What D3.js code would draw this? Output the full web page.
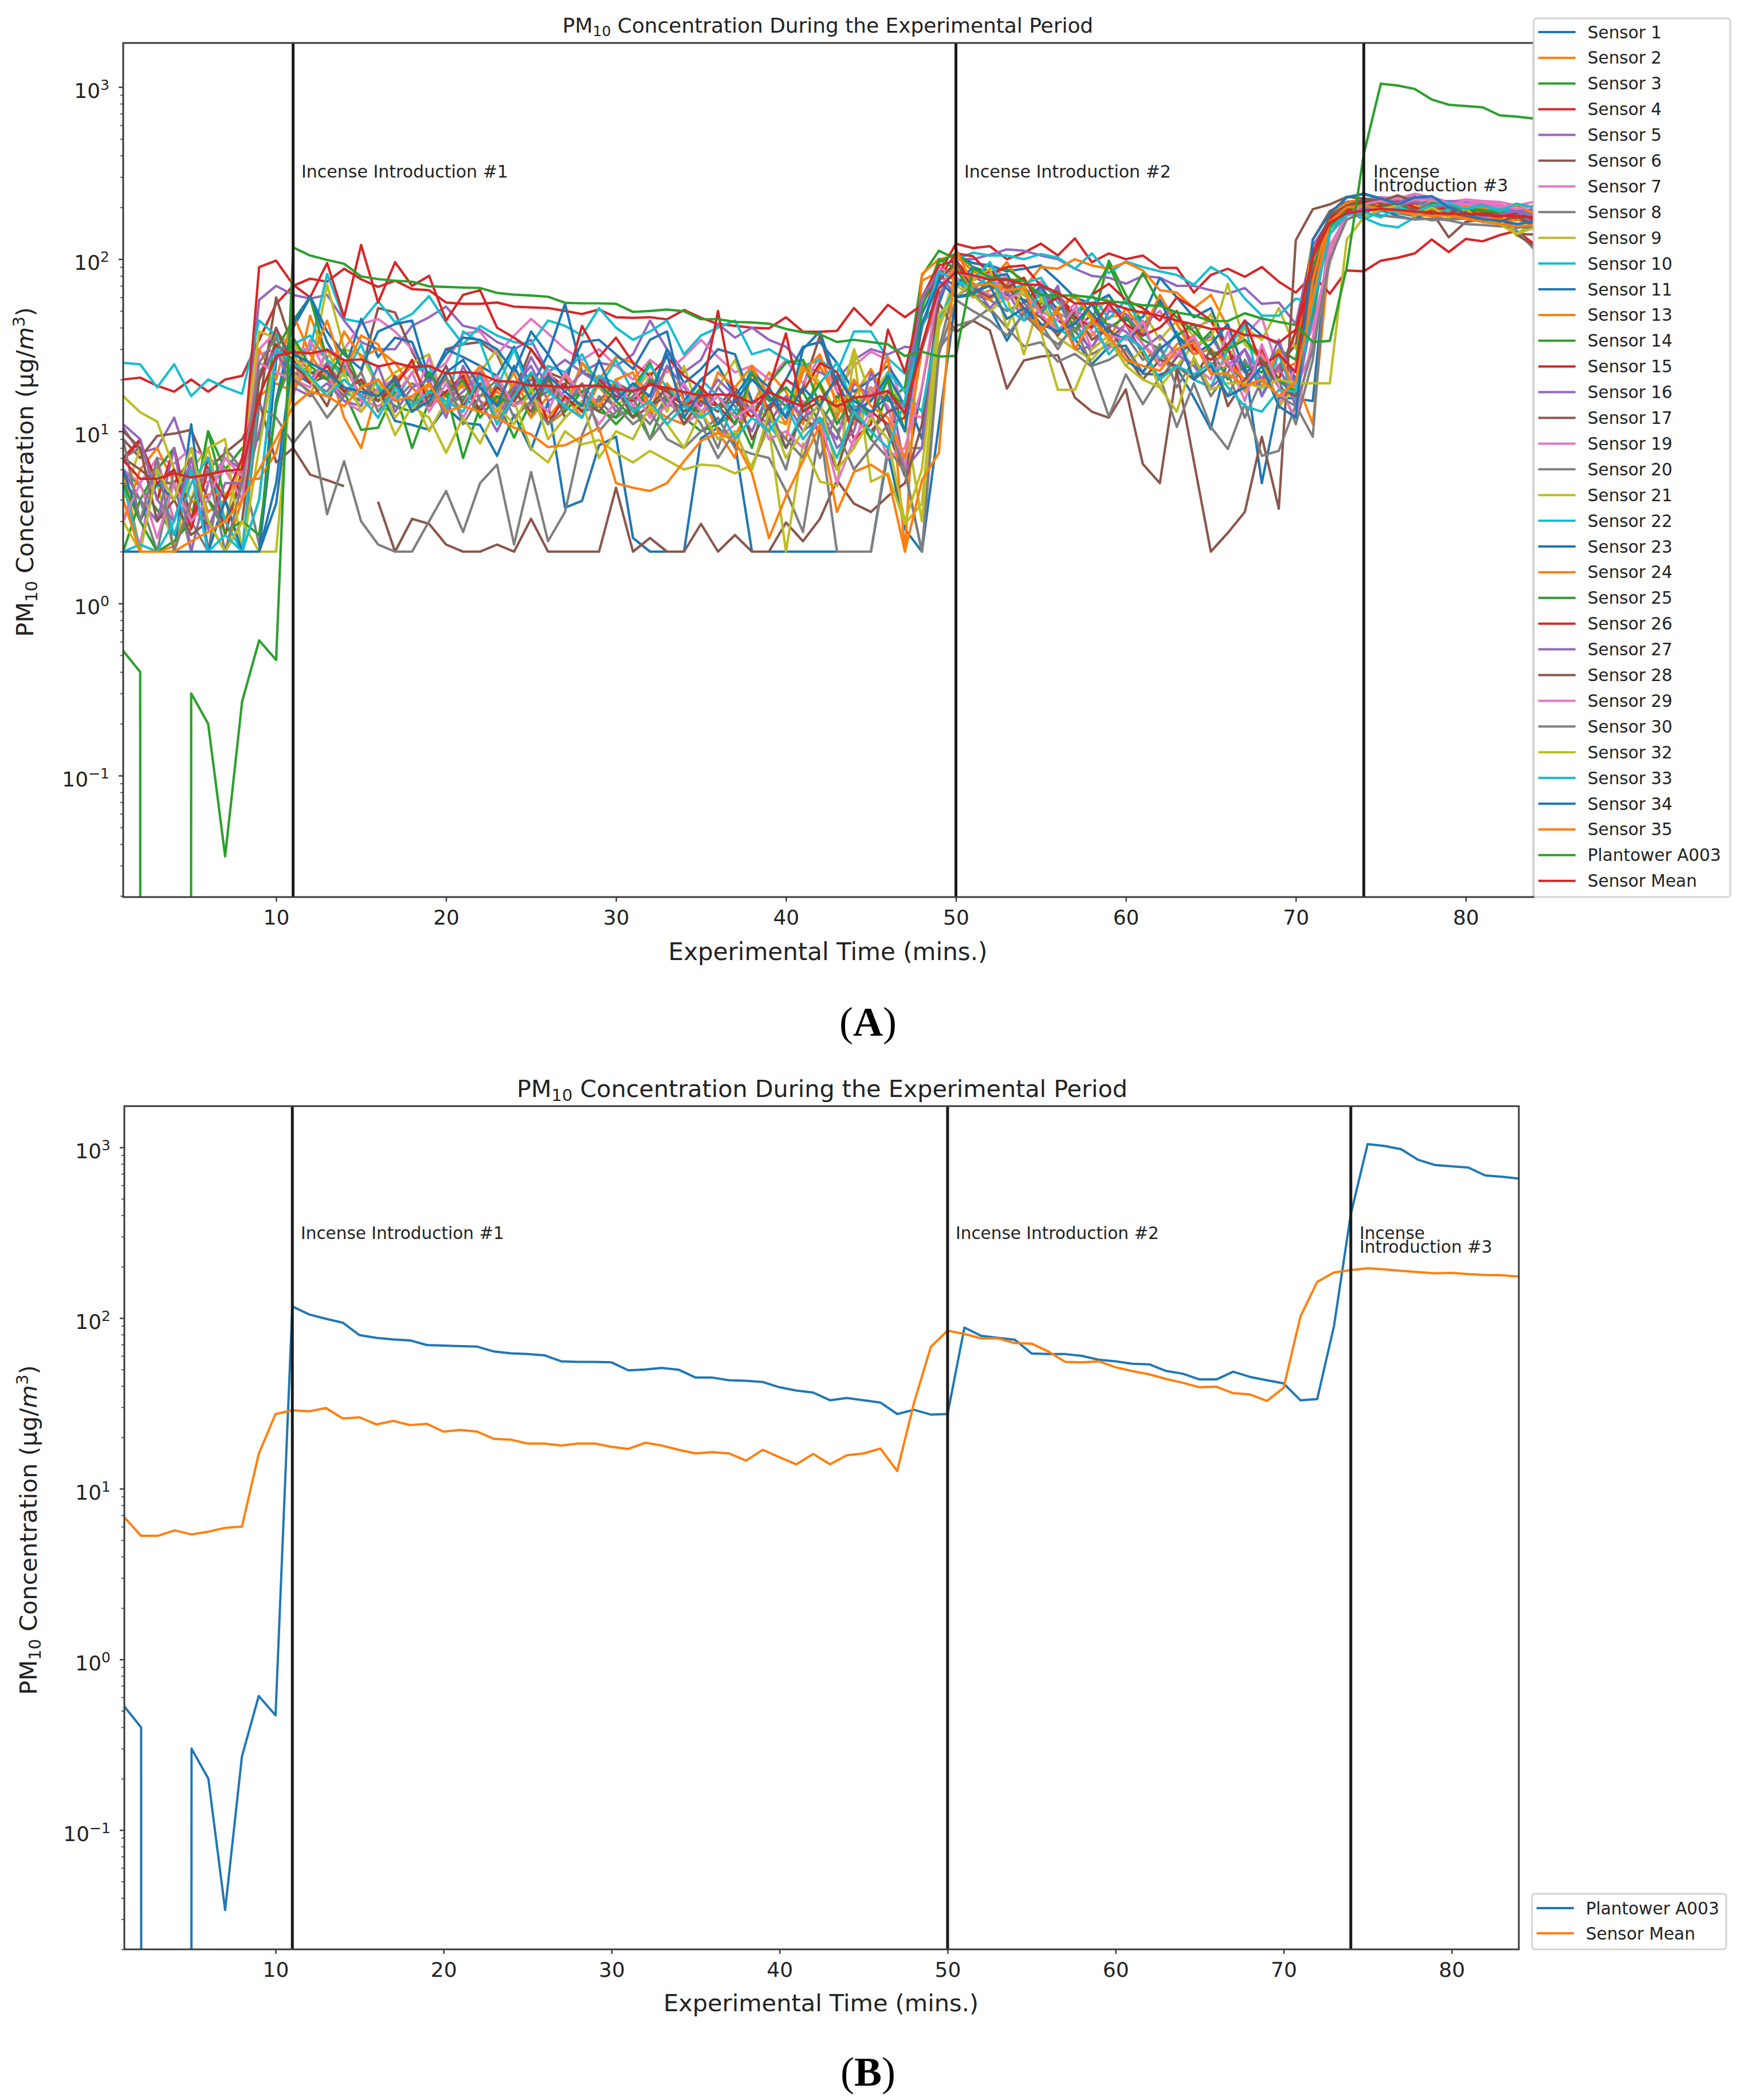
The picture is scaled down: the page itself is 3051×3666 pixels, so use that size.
<!DOCTYPE html>
<html>
<head>
<meta charset="utf-8">
<title>PM10 Concentration During the Experimental Period</title>
<script src="https://cdn.jsdelivr.net/npm/d3@7/dist/d3.min.js"></script>
<style>
  html, body { margin: 0; padding: 0; background: #fff; }
  svg { display: block; }
  text { font-family: "DejaVu Sans", sans-serif; fill: #222; }
</style>
</head>
<body>
<svg id="chart" width="3051" height="3666"></svg>
<script>
// PM10 readings per minute, in µg/m³. A null is a missing reading, a 0 is a zero reading.
const s1 = [2,2,2,2,2,2,2,2,2,3.8, 22,19,21,17,15,17.6,11.5,10.9,10.2,13.8, 11.2,10.9,7.2,12.5,7.8,14.8,3.6,3.95,8.3,9.3, 2.4,2,2,2,9.1,10.5,8.5,2,2,2, 2,2,2,2,2,7.5,2.7,2,11,60, 62,52,33.6,50,41,39.6,34.5,24.5,31,31.4, 21.6,21.3,23.4,15.7,10.3,26.7,24.6,5,15.7,15.5, 15,155,200,205,200,196,195,190,188,185, 178,180,175,172];
const s2 = [6,2,6.5,3,6.2,3.4,4,5.2,16,19, 17,47,25.6,12,8,18,19.5,13.8,18.5,14, 19,16,17,14,17,12,16,12,19,15, 18,12,19,14,18,10,9.5,14,22,17, 11,24,15,16,23,15,14,75,84,90, 60,66,72,50,58,38,44,36,46,48, 32,24,32,36,22,24,17,30,13.7,20, 11,110,190,215,205,212,200,190,185,178, 172,165,170,160];
const s3 = [6,4.8,3.5,2.5,3,10,6,8,9,38, 25,22,22.5,17,10.2,10.5,17,8,15,17, 7,14,15,9.2,15,17,19,13,14,11, 14,9,16,13,18,14,15,13,17,14, 17,11,16,13,18,15,18,80,112,100, 66,82,70,62,55,60,34,42,98,62, 42,50,36,30,38,24,20,26,22,38, 70,160,200,210,220,215,205,205,190,195, 195,188,180,182];
const s4 = [20,20.5,18.4,17,20,17,20,21,34,55, 70,77,74,88,76.5,69,75,67,66,56, 55,55,56,53,52.5,52,50,48,51,46, 45.6,46,44.7,50.7,45.7,42,41,40,39.6,46, 37.9,37.9,38.3,52,41.3,54.3,46,54.3,82,123, 116,119,100,109,123,105,132,96,108,100, 105,89,89,64,81,88,79,90,74,64, 81,63,86,85,98,102,108,130,110,131, 127,138,146,123];
const s5 = [10.5,7.5,8,12,6,5,7,6,58,70, 62,59,62,44,33,30,30,41,46,53, 41,39,33,30,34,22,26,22,25,24, 28,44,30,22,26,42,35,40,34,31, 24,22,20,26,30,28,31,30,60,100, 100,106,114,112,105,100,88,80,78,72, 80,78,70,70,66,63,68,55,56,42, 120,170,205,225,220,232,225,222,205,208, 210,205,190,195];
const s6 = [9,7,9.4,9.7,10.2,6,7.5,9,14,60, 30,22,20,16,22,52,49,29,19,30, 32,33,28,17,30,22,20,16,15,19, 17,14,16,13,15,14,18,13,16,12, 18,36,17,12,18,10,5.5,18,62,90, 80,70,62,58,50,44,38,48,34,42, 28,20,27,34,24,30,22,20,24,32, 130,190,215,222,215,205,205,188,134,165, 170,160,140,139];
const s7 = [6,5,7,6.5,8,7,6,5.5,30,38, 30,30,27,30,42,45,38,30,21,25, 37,38,28,36,45,37,30,26,30,24, 20,26,22,27,34,27,22,24,20,26, 19,27,17,24,29,26,13,12,55,100, 95,90,78,62,74,58,44,42,52,48, 42,50,36,40,44,30,36,46,22,18, 30,95,185,220,230,225,240,228,215,222, 218,215,205,215];
const s8 = [7,8,3,5,2,2,8,6,2.2,15, 26,19,17,24,16,20,15,19,17,14, 16,13,19,15,20,18,16,13,15,12, 14,11,16,11,13,8,16,13,10,6, 15,7,13,14,9,7,8,8,30,75, 62,58,50,56,42,30,44,28,32,36, 26,30,22,34,24,16,26,18,20,11, 26,140,190,195,190,195,185,178,170,172, 165,160,146,115];
const s9 = [4,8,5,2,6,8,3,7,38,35, 33,22,71,30,28,18,22,25,28,14, 20,22,30,16,21,19,14,25,18,14, 17,22,13,24,12,18,26,14,12,11, 26,19,13,30,16,22,12,3,40,85, 72,70,72,62,60,52,60,44,62,44, 50,34,44,36,48,26,40,34,52,30, 50,150,200,218,215,212,205,192,208,195, 188,182,137,170];
const s10 = [25,24.5,18,24.5,16,20,18,16.5,44,36, 28,30,82,45,43,57,43,48,61,43, 32,41,36,33,32,44,41,36,52,40, 34,38,44,28,36,40,44,28,30,26, 24,26,22,38,38,26.5,21.6,41,60,100, 109,105,105,100,107,102,88,108,83,97, 90,85,81,71,90,79,59,47,47,59, 56,170,210,174,158,153,175,185,180,188, 192,200,182,190];
const s11 = [2,2,2,2,11,2,4,2,2,26, 40,60,33,22,45,27,35,33,19,30, 27,24,21,31,18,28,55,22,20,18, 15,16,30,19,23,30,28,15,14,20, 31,33,25,17,20,24,17,9,55,105, 95,92,85,88,92,75,60,55,62,44, 46,78,60,46,52,30,44,36,32,20, 44,175,230,238,225,215,228,232,205,192, 190,180,178,172];
const s13 = [3,6,8,5,3.5,3,2,4,30,20, 48,28,20,38,27,30,25,18,14,16, 22,15,13,19,16,11,13,25,20,27, 25,14,12,11,16,10,7,24,16,11, 22,28,14,11,16,27,2,82,100,105, 85,75,96,68,90,88,100,92,88,96, 86,66,64,52,62,40,34,28,22,25, 130,185,212,226,215,220,218,200,190,196, 200,192,205,185];
const s14 = [2,4,6,8,3,10,4,2,4,30, 44,60,26,22,19,17,14,13,17,20, 15,22,14,18,12,20,15,17,13,12, 18,25,15,12,10,11,13,8,19,25, 26,14,10,13,9,17,14,58,96,108, 90,84,88,75,60,48,45,62,93,55, 83,55,46,38,30,20,24,22,30,26, 90,165,205,215,220,205,215,210,195,200, 192,185,188,176];
const s15 = [7,9,4,8,3,7,2.5,6,90,98, 71,60,95,46,121,56,96,70,80,44, 62,66,40,35,30,21.6,18,41,27,35, 25,21,27,21,18,14,11,22,13,20, 17,25,22,14,13,11,12,40,78,108, 104,82,90,92,70,62,48,62,72,58, 52,44,60,52,44,30,18,30,20,38, 80,170,205,215,205,212,208,205,192,188, 185,182,170,165];
const s16 = [6,4,3,8,2,5,6,4,10,28, 22,20,25,18,16,15,19,24,22,14, 17,22,12,18,24,15,17,22,19,13, 16,20,14,17,12,18,14,10,17,15, 10,12,9,19,16,20,6,8,60,95, 80,70,76,50,68,46,38,30,50,48, 36,58,42,30,36,24,30,20,34,18, 60,165,198,205,225,215,232,210,218,215, 205,198,192,180];
const s17 = [7,6,5,5,7,4,3,5,15,6.6, 8,5.6,5.2,4.8,null,3.9,2,3.1,2.9,2.2, 2,2,2.2,2,3.1,2,2,2,2,4.7, 2,2.4,2,2,2.9,2,2.5,2,2,2.95, 2.3,3.1,5.2,3.8,3.4,4.2,5,11,56,37.7, 44,38.6,17.7,25.8,27.2,27.7,15.7,13,12,17.5, 6.45,5,22.5,6.7,2,2.57,3.4,9.3,3.55,129, 195,208,230,225,218,235,215,195,190,182, 180,175,139,120];
const s19 = [4,2.2,7,3,6,5,6,4,28,30, 16,34,21,15,13,18,20,14,27,13, 14,24,12,15,14,23,15,19,14,20, 14,21,16,11,13,9,11,14,18,12, 15,10,12,8,18,14,6,55,90,78, 70,62,58,70,50,44,55,38,30,42, 32,26,30,24,20,38,18,28,14,24, 40,110,170,190,208,196,200,214,205,220, 215,208,195,205];
const s20 = [5,4,2,6,3,2,4,2,14,12, 8.5,11.4,3.3,6.7,3,2.2,2,2,3,4.5, 2.6,5,6.4,2.2,5.8,2.3,3.4,9.5,16,14, 11,13,9,8,10,12,8,7.4,7,4.5, 2.6,10.5,2,2,2,8,5.8,2,30,41, 44,52,40,31.2,32.9,25.4,28.2,23.7,12.2,21.4, 14.4,20.7,10.6,19,10.6,7.9,14.4,7.2,7.7,14.2, 9.3,180,190,195,200,185,178,168,172,175, 178,170,160,150];
const s21 = [16,12.9,11.4,6,4,8,9,2,8,30, 22,16,30,18,14,20,12,16,10,15, 14,18,12,15,7.9,6.6,10,8.4,8.9,7.5, 6.6,7.7,6.8,6,6.4,6.3,5.7,6.4,10.5,2, 8.5,5.1,4.8,28,5.1,5.7,2.9,3.8,40,70, 62,50,60,28,60,35,30,26,34,24, 30,18,24,32,34,72,32,26,14,18, 50,160,195,200,195,190,205,192,188,178, 180,172,140,165];
const s22 = [5,2,6,2.5,5,7,3,2,20,30, 32,36,26,21,32,18,15,22,24,13, 38,33,18,30,16,24,22,28,18,26, 17,24,18,14,20,16,13,24,11,8, 13,19,25,14,12,22,17,13,45,70, 76,96,64,72,78,56,48,62,45,58, 40,26,38,20,18,30,42,16,28,15, 48,150,190,170,190,185,195,180,195,200, 205,195,185,175];
const s23 = [6,3,5,4,6,2,4,2,2,15, 42,61,38,28,23,38,42,44,20,28, 35,34,30,22,38,28,20,33,34,28, 23,34,38,15,20,24,16,22,18,12, 30,38,19,13,15,21,14,48,80,70, 90,78,82,56,70,50,62,48,38,34, 40,58,36,28,32,42,22,25,20,16, 70,160,190,212,195,178,170,195,178,185, 165,170,152,158];
const s24 = [2,2,2,2.15,3.87,4.3,4.3,5.3,5.3,7.5, 17,25,44,22,36,32,20,24,16,20, 18,24,15,22,12,16,21,17,14,20, 22,13,24,15,12,22,18,24,12,9, 24,18,12,20,14,12,7,30,68,92, 66,58,72,48,40,52,62,46,34,52, 38,62,42,28,30,25,20,18,30,16, 75,180,200,190,212,205,198,190,180,205, 178,172,168,178];
const s25 = [5,3,2,2.3,3,4,2.6,3,2.5,14, 35,24,20,30,18,15,19,14,22,16, 20,12,16,14,17,21,13,17,19,15, 12,20,17,14,13,16,11,22,15,18, 14,19,11,16,12,20,10,52,100,88, 62,75,58,70,48,66,38,56,40,46, 34,30,36,42,28,30,34,26,20,17, 50,155,196,208,200,210,190,212,205,195, 190,192,175,168];
const s26 = [7,8.7,5,6,2.7,6,4,7,20,32, 26,19,24,17,20,15,18,26,14,17, 21,13,18,15,22,11,16,13,20,16, 15,19,17,14,16,50,15,12,18,37, 13,15,20,9,11,39,22,60,92,98, 75,86,68,78,52,60,46,40,55,42, 36,40,50,30,26,32,44,24,28,22, 110,175,195,185,205,215,200,188,185,192, 180,176,186,170];
const s27 = [11,9,4,3,7,2.7,5,5,22,30, 18,16,19,15,14,24,13,18,20,12, 24,15,10,16,27,18,14,12,21,17, 13,15,24,18,14,20,16,13,11,16, 12,14,8,10,22,13,15,60,85,60, 72,52,66,44,50,70,30,31,42,38, 30,36,28,24,18,22,30,16,24,14, 55,140,180,200,192,205,215,200,205,180, 176,182,190,160];
const s28 = [10,8,3,4,2.5,3,2,3,20,40, 24,20,14,26,18,15,21,13,16,24, 14,19,11,17,13,21,12,15,13,18, 12,14,18,11,15,13,17,9,14,8, 12,10,6,12,10,13,14,30,75,96, 68,60,70,52,46,36,50,34,40,28, 20,26,24,20,30,14,20,26,18,16, 100,180,205,222,210,200,195,180,185,178, 170,165,178,155];
const s29 = [3,5,2.4,5,3,4,7,5.5,25,22, 20,18,30,26,15,14,16,22,13,19, 12,18,21,14,16,13,22,16,11,15, 18,12,14,19,13,16,12,14,9,10, 8,12,5,9,13,7,8,18,70,85, 78,82,58,66,48,38,52,30,36,34, 44,24,28,36,22,26,15,32,18,12, 35,120,178,208,218,210,222,220,212,208, 214,200,210,198];
const s30 = [9,3,7,2,4,6,2,5,25,35, 20,17,12,16,22,13,18,15,14,21, 11,16,20,12,15,11,14,19,10,13, 16,9,12,15,11,7,10,6,12,9, 7,14,10,6,8,11,6,2,28,58, 50,44,36,48,38,32,40,24,26,30, 22,32,18,26,16,22,12,20,16,14, 30,100,170,186,180,175,170,172,168,160, 158,155,155,150];
const s32 = [3,2,6,4,8,3,2,3,2,2, 28,20,16,22,13,17,9.5,14,12,7.5, 12,8.5,14,11,18,9,12,15,7,10, 9,14,11,8,13,9,10,6,13,7, 10,15,6,8,12,9,3,6,48,60, 75,88,40,70,38,17.4,17.4,30,36,24, 20,18,13,27,17.5,19,19,18,20,19, 19,19,130,175,195,205,178,200,175,195, 168,160,140,152];
const s33 = [2,2.2,2,3,6,2,2.5,2,4,30, 25,21,16,20,16,12,18,14,17,15, 13,21,11,16,22,17,14,12,21,19, 13,15,11,14,12,14,9,12,10,14, 9,12,7,13,10,8,15,40,85,75, 68,80,52,44,65,40,34,44,28,36, 30,20,24,21.4,25,18,14,13,17.4,17, 55,140,180,188,175,200,188,205,212,195, 205,190,210,200];
const s34 = [2,2,2,2,2,2,2,2,2,5, 28,25,22,18,17,16,20,13,15,22, 26,18,14,24,15,21,17,14,26,15, 19,16,28,12,17,11,15,20,16,12, 18,14,21,15,13,16,10,42,75,60, 64,70,45,52,42,38,42,55,36,26, 22,30,36,20,24,16,18,24,14,12, 130,185,228,241,225,208,228,232,200,185, 170,168,160,165];
const s35 = [4,2,2,2,2.3,2.6,3,4,6,9, 14,17,16,14,18,20,15,16,19,13, 14,13,12,10.5,9.6,8.1,8.3,9.3,10.5,5, 4.7,4.5,5,6.7,8.8,9.8,8.8,5.7,2.4,4.2, 6.7,10.9,3.4,5.8,6.4,5.5,2,5.2,7.5,115, 70,72,66,68,38,50,30,44,36,26, 24,22.5,30,33,21.6,21.6,18.4,20,16,19.5, 60,165,200,205,195,190,182,178,180,172, 165,160,155,158];
const plantower = [0.53,0.4,0,0,0.3,0.2,0.034,0.27,0.61,0.47, 117,105,99,94,79.4,76.6,75,74,69.5,69, 68.4,68,63.7,62.2,61.5,60.5,55.8,55.4,55.4,55, 49.4,50,51,49.8,44.8,44.8,43.2,42.9,42.2,39.3, 37.6,36.6,33,34,33,32,27.4,29,27.2,27.4, 88,78.7,76.6,74.7,62,61.5,61.5,60,57,55.8, 54,53.6,49,47.2,43.7,43.7,48.5,45.2,43.2,41.4, 33,33.5,90,407,1045,1020,975,846,789,775, 762,685,673,656];
const sensorMean = [6.8,5.3,5.3,5.7,5.4,5.6,5.9,6,16,27.4, 28.8,28.4,29.7,25.8,26.2,23.8,25,23.6,24,21.6, 22.1,21.6,19.6,19.4,18.4,18.4,17.9,18.4,18.4,17.6, 17.1,18.6,17.9,16.9,16.1,16.4,16.1,14.6,16.9,15.3, 13.9,16,13.9,15.7,16.1,17.2,12.7,31.8,67.8,84.4, 80.7,76,76,71.4,70.8,63.7,55.4,55,55.8,51.5, 48.9,46.8,44,41.8,39.3,39.6,36.3,35.7,32.7,39, 102,163,185,191,196,193,189,186,183,184, 181,179,178,175];

// Legend order of every trace in the upper panel.
const sensorSeries = [
  ["Sensor 1", s1], ["Sensor 2", s2], ["Sensor 3", s3], ["Sensor 4", s4], ["Sensor 5", s5],
  ["Sensor 6", s6], ["Sensor 7", s7], ["Sensor 8", s8], ["Sensor 9", s9], ["Sensor 10", s10],
  ["Sensor 11", s11], ["Sensor 13", s13], ["Sensor 14", s14], ["Sensor 15", s15], ["Sensor 16", s16],
  ["Sensor 17", s17], ["Sensor 19", s19], ["Sensor 20", s20], ["Sensor 21", s21], ["Sensor 22", s22],
  ["Sensor 23", s23], ["Sensor 24", s24], ["Sensor 25", s25], ["Sensor 26", s26], ["Sensor 27", s27],
  ["Sensor 28", s28], ["Sensor 29", s29], ["Sensor 30", s30], ["Sensor 32", s32], ["Sensor 33", s33],
  ["Sensor 34", s34], ["Sensor 35", s35], ["Plantower A003", plantower], ["Sensor Mean", sensorMean]
];
const comparisonSeries = [["Plantower A003", plantower], ["Sensor Mean", sensorMean]];

const minutes = d3.range(1, 85);
const xTickValues = [10, 20, 30, 40, 50, 60, 70, 80];
const yMajorExponents = [-1, 0, 1, 2, 3];
const incenseMinutes = [11, 50, 74];

const svg = d3.select("#chart");
const palette = d3.schemeCategory10;

function drawPanel(p, series) {
  const x = d3.scaleLinear().domain([1, 84]).range([p.left, p.right]);
  const y = d3.scaleLog().domain(p.yDomain).range([p.bottom, p.top]);
  const g = svg.append("g");
  const clipId = "clip-" + p.id;
  g.append("clipPath").attr("id", clipId).append("rect")
    .attr("x", p.left).attr("y", p.top)
    .attr("width", p.right - p.left).attr("height", p.bottom - p.top);

  // Zero readings fall off the bottom of the log axis as near-vertical strokes.
  const line = d3.line()
    .defined(d => d != null)
    .x((d, i) => x(minutes[i]))
    .y(d => y(Math.max(d, 1e-300)));

  const traces = g.append("g").attr("clip-path", `url(#${clipId})`);
  series.forEach(([name, values], i) => {
    traces.append("path").datum(values)
      .attr("d", line).attr("fill", "none")
      .attr("stroke", palette[i % 10]).attr("stroke-width", p.lineWidth)
      .attr("stroke-linejoin", "round");
  });

  traces.selectAll("line.incense").data(incenseMinutes).join("line")
    .attr("x1", d => x(d)).attr("x2", d => x(d))
    .attr("y1", p.top).attr("y2", p.bottom)
    .attr("stroke", "#1a1a1a").attr("stroke-width", 5);

  // Frame and axes
  g.append("rect").attr("x", p.left).attr("y", p.top)
    .attr("width", p.right - p.left).attr("height", p.bottom - p.top)
    .attr("fill", "none").attr("stroke", "#3a3a3a").attr("stroke-width", 3);

  const xAxis = g.append("g").attr("transform", `translate(0,${p.bottom})`)
    .call(d3.axisBottom(x).tickValues(xTickValues).tickSize(8).tickPadding(14));
  xAxis.select(".domain").remove();
  xAxis.selectAll("line").attr("stroke", "#3a3a3a").attr("stroke-width", 2.4);
  xAxis.selectAll("text").attr("font-size", 36).attr("fill", "#222")
    .style("font-family", '"DejaVu Sans", sans-serif');

  const minorValues = [];
  for (let e = -2; e <= 3; e++) for (let m = 2; m <= 9; m++) {
    const v = m * Math.pow(10, e);
    if (v >= p.yDomain[0] && v <= p.yDomain[1]) minorValues.push(v);
  }
  const yMinor = g.append("g").attr("transform", `translate(${p.left},0)`)
    .call(d3.axisLeft(y).tickValues(minorValues).tickSize(5).tickFormat(""));
  yMinor.select(".domain").remove();
  yMinor.selectAll("line").attr("stroke", "#3a3a3a").attr("stroke-width", 1.6);

  const yMajor = g.append("g").attr("transform", `translate(${p.left},0)`)
    .call(d3.axisLeft(y).tickValues(yMajorExponents.map(e => Math.pow(10, e))).tickSize(8).tickFormat(""));
  yMajor.select(".domain").remove();
  yMajor.selectAll("line").attr("stroke", "#3a3a3a").attr("stroke-width", 2.4);
  yMajorExponents.forEach(e => {
    const t = g.append("text").attr("x", p.left - 24).attr("y", y(Math.pow(10, e)) + 19)
      .attr("text-anchor", "end").attr("font-size", 36);
    t.append("tspan").text("10");
    t.append("tspan").attr("dy", -14).attr("font-size", 25).text(String(e).replace("-", "\u2212"));
  });

  // Title with subscript
  const title = g.append("text").attr("x", p.titleX).attr("y", p.titleY)
    .attr("text-anchor", "middle").attr("font-size", p.titleSize);
  title.append("tspan").text("PM");
  title.append("tspan").attr("dy", p.titleSize * 0.16).attr("font-size", p.titleSize * 0.7).text("10");
  title.append("tspan").attr("dy", -p.titleSize * 0.16).text(" Concentration During the Experimental Period");

  // Axis captions
  g.append("text").attr("x", p.xLabelX).attr("y", p.xLabelY)
    .attr("text-anchor", "middle").attr("font-size", p.xLabelSize).text("Experimental Time (mins.)");

  const yLabel = g.append("text")
    .attr("transform", `translate(${p.yLabelX},${p.yLabelY}) rotate(-90)`)
    .attr("text-anchor", "middle").attr("font-size", 41.5);
  yLabel.append("tspan").text("PM");
  yLabel.append("tspan").attr("dy", 7).attr("font-size", 29).text("10");
  yLabel.append("tspan").attr("dy", -7).text(" Concentration (µg/");
  yLabel.append("tspan").attr("font-style", "italic").text("m");
  yLabel.append("tspan").attr("dy", -15).attr("font-size", 29).text("3");
  yLabel.append("tspan").attr("dy", 15).text(")");

  // Incense annotations
  const note = (tx, ty, s) => g.append("text").attr("x", tx).attr("y", ty)
    .attr("font-size", p.noteSize).text(s);
  note(p.note1X, p.noteY, "Incense Introduction #1");
  note(p.note2X, p.noteY, "Incense Introduction #2");
  note(p.note3X, p.noteY, "Incense");
  note(p.note3X, p.noteY + 24, "Introduction #3");

  // Legend
  const lg = g.append("g");
  lg.append("rect").attr("x", p.legend.x).attr("y", p.legend.y)
    .attr("width", p.legend.w).attr("height", p.legend.h).attr("rx", 5)
    .attr("fill", "#fff").attr("stroke", "#d4d4d4").attr("stroke-width", 3);
  series.forEach(([name], i) => {
    const ry = p.legend.firstRow + i * p.legend.rowStep;
    lg.append("line").attr("x1", p.legend.x + 8).attr("x2", p.legend.x + 73)
      .attr("y1", ry).attr("y2", ry)
      .attr("stroke", palette[i % 10]).attr("stroke-width", 4);
    lg.append("text").attr("x", p.legend.x + 94).attr("y", ry + 10.5)
      .attr("font-size", 29.5).text(name);
  });
}

drawPanel({
  id: "a", left: 215, right: 2677, top: 75, bottom: 1566, yDomain: [0.0197, 1803], lineWidth: 4.2,
  titleX: 1445, titleY: 57, titleSize: 35.9, xLabelX: 1445, xLabelY: 1676, xLabelSize: 42, yLabelX: 58, yLabelY: 824,
  note1X: 526, note2X: 1683, note3X: 2397, noteY: 310, noteSize: 30,
  legend: { x: 2677, y: 32, w: 343, h: 1534, firstRow: 56, rowStep: 44.9 }
}, sensorSeries);

drawPanel({
  id: "b", left: 217, right: 2651, top: 1931, bottom: 3403, yDomain: [0.02, 1745], lineWidth: 4,
  titleX: 1435, titleY: 1915, titleSize: 41.3, xLabelX: 1433, xLabelY: 3511, xLabelSize: 41.5, yLabelX: 64, yLabelY: 2671,
  note1X: 525, note2X: 1668, note3X: 2373, noteY: 2163, noteSize: 29.5,
  legend: { x: 2674, y: 3306, w: 339, h: 97, firstRow: 3331, rowStep: 44 }
}, comparisonSeries);

// Sub-figure captions
[["A", 1515, 1808], ["B", 1515, 3641]].forEach(([letter, cx, cy]) => {
  const t = svg.append("text").attr("x", cx).attr("y", cy).attr("text-anchor", "middle")
    .attr("font-size", 72).style("font-family", '"Liberation Serif", serif').style("fill", "#000");
  t.append("tspan").text("(");
  t.append("tspan").attr("font-weight", "bold").text(letter);
  t.append("tspan").text(")");
});
</script>
</body>
</html>
